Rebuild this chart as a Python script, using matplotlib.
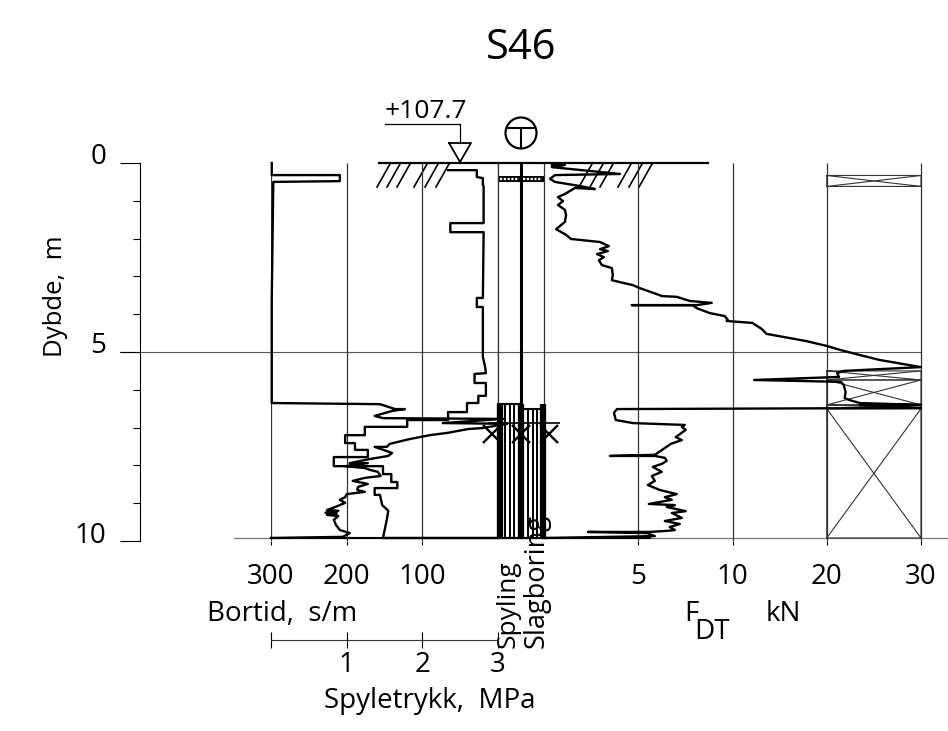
import numpy as np
import matplotlib
matplotlib.use("Agg")
import matplotlib.pyplot as plt

plt.rcParams['font.family'] = ['Open Sans', 'DejaVu Sans']

B, H = 948, 731

# bortid (s/m) mot dybde (m)
bortid = [299, 299, 209, 209, 297, 299, 299, 156, 136, 123, 140, 163, 152, -7, 73, -12, 20, 40, 67, 90, 116,
          143, 147, 163, 140, 145, 169, 196, 172, 202, 176, 169, 159, 155, 176, 192, 172, 185, 186, 176, 200,
          202, 209, 202, 215, 226, 211, 228, 213, 226, 211, 217, 214, 209, 196, 205, 300]
bortid_dybde = [0, 0.32, 0.32, 0.48, 0.50, 3.62, 6.35, 6.38, 6.51, 6.51, 6.56, 6.69, 6.75, 6.77, 6.88, 6.90, 7.01,
                7.04, 7.14, 7.20, 7.30, 7.43, 7.51, 7.51, 7.67, 7.75, 7.83, 7.94, 7.94, 8.02, 8.07, 8.12, 8.17,
                8.28, 8.33, 8.41, 8.49, 8.57, 8.65, 8.70, 8.76, 8.84, 8.91, 8.99, 9.10, 9.18, 9.20, 9.25, 9.27,
                9.31, 9.34, 9.44, 9.58, 9.71, 9.79, 9.89, 9.92]

# spyletrykk (MPa)
trykk = [2.34, 2.72, 2.72, 2.80, 2.80, 2.81, 2.81, 2.37, 2.37, 2.81, 2.80, 2.72, 2.72, 2.80, 2.80, 2.83, 2.84,
         2.69, 2.69, 2.84, 2.84, 2.74, 2.74, 2.59, 2.59, 2.34, 2.34, 1.80, 1.80, 1.24, 1.24, 0.98, 0.98, 1.11,
         1.11, 1.28, 1.28, 0.83, 0.83, 1.48, 1.48, 1.59, 1.59, 1.67, 1.67, 1.37, 1.37, 1.44, 1.47, 1.55, 1.53,
         1.48, 3.0]
trykk_dybde = [0.19, 0.19, 0.37, 0.40, 0.58, 0.61, 1.59, 1.59, 1.83, 1.83, 3.57, 3.57, 3.81, 3.81, 5.13, 5.40,
               5.56, 5.58, 5.82, 5.82, 6.16, 6.16, 6.35, 6.35, 6.59, 6.59, 6.80, 6.80, 6.98, 6.98, 7.20, 7.20,
               7.41, 7.41, 7.59, 7.59, 7.78, 7.78, 8.02, 8.02, 8.23, 8.23, 8.44, 8.44, 8.60, 8.60, 8.78, 8.78,
               9.05, 9.20, 9.44, 9.92, 9.92]

# F_DT (kN)
kraft = [0.42, 1.11, 0.42, 4.03, 0.58, 0.32, 0.58, 1.91, 2.70, 1.64, 1.11, 0.74, 1.01, 0.74, 1.11, 1.17, 1.11,
         0.64, 1.17, 1.43, 2.97, 3.44, 2.97, 3.39, 2.81, 3.18, 2.91, 3.07, 3.60, 3.65, 3.60, 4.18, 4.71, 5.08,
         5.99, 6.25, 7.04, 7.73, 8.90, 8.10, 4.66, 7.89, 8.10, 8.79, 9.59, 9.75, 9.69, 12.1, 13.1, 13.6, 17.8,
         20.0, 21.5, 23.5, 25.6, 30.0, 21.8, 21.1, 21.3, 12.3, 21.5, 21.8, 22.0, 21.9, 22.4, 23.5, 30.0, 23.5,
         30.0, 3.87, 3.71, 3.81, 4.71, 7.47, 7.31, 7.52, 6.99, 7.31, 6.73, 6.41, 5.88, 3.50, 5.88, 6.41, 6.51,
         6.25, 5.77, 6.25, 5.72, 5.88, 5.51, 6.14, 7.04, 6.41, 6.78, 5.56, 6.94, 6.51, 7.52, 6.78, 7.31, 6.41,
         7.20, 6.67, 6.94, 6.57, 5.61, 2.33, 5.46, 5.88, 0]
kraft_dybde = [0.05, 0.05, 0.11, 0.29, 0.32, 0.42, 0.50, 0.61, 0.69, 0.66, 0.82, 0.90, 1.01, 1.11, 1.24, 1.38,
               1.56, 1.75, 1.90, 2.01, 2.09, 2.20, 2.28, 2.33, 2.41, 2.49, 2.57, 2.70, 2.78, 2.96, 3.10, 3.17,
               3.23, 3.31, 3.47, 3.52, 3.54, 3.65, 3.70, 3.76, 3.76, 3.76, 3.84, 3.97, 4.05, 4.15, 4.18, 4.23,
               4.39, 4.52, 4.71, 4.84, 4.95, 5.08, 5.21, 5.40, 5.50, 5.56, 5.66, 5.74, 5.79, 5.87, 6.06, 6.22,
               6.27, 6.35, 6.40, 6.40, 6.48, 6.51, 6.61, 6.80, 6.88, 6.93, 6.98, 7.06, 7.25, 7.33, 7.43, 7.54,
               7.72, 7.75, 7.75, 7.80, 7.88, 7.96, 8.04, 8.17, 8.28, 8.41, 8.52, 8.65, 8.76, 8.84, 8.91, 9.02,
               9.05, 9.10, 9.21, 9.26, 9.39, 9.47, 9.55, 9.63, 9.71, 9.73, 9.76, 9.76, 9.79, 9.87, 9.92]

# soner i kolonnen lengst til hoyre (fra, til)
kryss_soner = [(0.33, 0.62), (5.50, 5.74), (5.74, 6.40), (6.40, 6.50), (6.50, 9.92)]

# spyling og slagboring (start dybde), avslutning
kolonne_start = [6.37, 6.50]
kolonne_slutt = 9.92
topp_bar = (0.35, 0.50)
stopp_dybde = 7.03

dybde_etiketter = ['0', '5', '10']


def akse(x0, y0, x1, y1):
    # akser plassert med pikselkanter fra referansen
    return fig.add_axes([x0 / B, 1 - y1 / H, (x1 - x0) / B, (y1 - y0) / H])


def tekst(x, y, s, **kw):
    kw.setdefault('ha', 'center')
    kw.setdefault('va', 'center')
    kw.setdefault('fontsize', 20)
    fig.text(x / B, 1 - y / H, s, **kw)


def frem(f):
    return np.interp(f, [-10, 0, 10, 30, 60], [-1, 0, 1, 2, 3.5])


def tilbake(v):
    return np.interp(v, [-1, 0, 1, 2, 3.5], [-10, 0, 10, 30, 60])


fig = plt.figure(figsize=(B / 100, H / 100), dpi=100)
bakgrunn = fig.add_axes([0, 0, 1, 1])
bakgrunn.set_xlim(0, B)
bakgrunn.set_ylim(H, 0)
bakgrunn.axis('off')

# dybdeakse
ax_d = akse(140, 163, 141, 541)
ax_d.set_ylim(10, 0)
ax_d.set_xticks([])
for s in ['top', 'right', 'bottom']:
    ax_d.spines[s].set_visible(False)
ax_d.spines['left'].set_linewidth(0.8)
ax_d.set_yticks([0, 5, 10])
ax_d.set_yticklabels([])
ax_d.set_yticks(np.arange(1, 10), minor=True)
ax_d.tick_params(axis='y', which='major', length=14.4, width=0.8)
ax_d.tick_params(axis='y', which='minor', length=5, width=0.8)
ax_d.patch.set_alpha(0)

# bortid og spyletrykk
ax_b = akse(271, 163, 498, 541)
ax_b.set_xlim(300, 0)
ax_b.set_ylim(10, 0)
ax_b.patch.set_alpha(0)
ax_b.set_frame_on(False)
ax_b.yaxis.set_visible(False)
ax_b.set_xticks([300, 200, 100])
ax_b.tick_params(axis='x', length=3, width=0.8, labelsize=20, pad=12.5)
ax_b.vlines([300, 200, 100, 0], 0, 10, color='#333333', lw=0.9)
ax_b.plot(bortid, bortid_dybde, color='black', lw=1.7, clip_on=False)

ax_t = ax_b.inset_axes([0, 0, 1, 1])
ax_t.set_xlim(0, 3)
ax_t.set_ylim(10, 0)
ax_t.axis('off')
ax_t.plot(trykk, trykk_dybde, color='black', lw=1.7, clip_on=False)

# egen skala for spyletrykk under figuren
ax_s = akse(271, 639, 498, 640)
ax_s.set_xlim(0, 3)
ax_s.set_yticks([])
for s in ['top', 'left', 'right']:
    ax_s.spines[s].set_visible(False)
ax_s.spines['bottom'].set_linewidth(0.8)
ax_s.spines['bottom'].set_color('#333333')
ax_s.set_xticks([0, 1, 2, 3])
ax_s.set_xticklabels(['', '1', '2', '3'])
ax_s.tick_params(axis='x', direction='inout', length=11, width=0.8, labelsize=20, pad=2.5)

# kolonne i midten
ax_k = akse(498, 163, 544, 541)
ax_k.set_xlim(0, 2)
ax_k.set_ylim(10, 0)
ax_k.axis('off')
ax_k.patch.set_alpha(0)
ax_k.vlines([0, 2], 0, kolonne_slutt, color='#333333', lw=0.9, clip_on=False)
ax_k.vlines(1, 0, kolonne_slutt, color='black', lw=2.2)
for kol, start in enumerate(kolonne_start):
    ax_k.bar(kol + 0.5, kolonne_slutt - start, bottom=start, width=1, fill=False, edgecolor='black', lw=1.5,
             clip_on=False)
    ax_k.vlines(kol + np.array([0.32, 0.5, 0.68]), start, kolonne_slutt, color='black', lw=1.4)
ax_k.vlines([0.08, 1.0, 1.96], kolonne_start[0], kolonne_slutt, color='black', lw=4.5, clip_on=False)
ax_k.bar([0.5, 1.5], topp_bar[1] - topp_bar[0], bottom=topp_bar[0], width=1, color='black')
for kol in [0, 1]:
    ax_k.hlines(sum(topp_bar) / 2, kol + 0.1, kol + 0.9, color='white', lw=1.6, linestyle=(0, (1, 0.7)))
ax_k.plot([-0.26, 1, 2.2], [stopp_dybde + 0.13] * 3, 'x', color='black', ms=13, mew=1.7, clip_on=False)
ax_k.hlines(stopp_dybde - 0.15, -0.45, 2.7, color='black', lw=1.2, clip_on=False)

# F_DT
ax_f = akse(544, 163, 921, 541)
ax_f.set_xscale('function', functions=(frem, tilbake))
ax_f.set_xlim(0, 30)
ax_f.set_ylim(10, 0)
ax_f.patch.set_alpha(0)
ax_f.set_frame_on(False)
ax_f.yaxis.set_visible(False)
ax_f.set_xticks([5, 10, 20, 30])
ax_f.set_xticklabels(['5', '10', '20', '30'])
ax_f.minorticks_off()
ax_f.tick_params(axis='x', length=3, width=0.8, labelsize=20, pad=12.5)
ax_f.vlines([5, 10, 20, 30], 0, 10, color='#333333', lw=0.9, clip_on=False)
for fra, til in kryss_soner:
    ax_f.plot([20, 30, 30, 20, 20, 30], [fra, fra, til, til, fra, til], color='#333333', lw=0.8, clip_on=False)
    ax_f.plot([20, 30], [til, fra], color='#333333', lw=0.8)
ax_f.plot(kraft, kraft_dybde, color='black', lw=1.7, clip_on=False)

# linjer over hele figuren, terreng og tegnforklaring
bakgrunn.plot([120, 921], [352, 352], color='#555555', lw=0.8)
bakgrunn.plot([234, 948], [538, 538], color='#777777', lw=0.9)
bakgrunn.plot([271, 650], [538, 538], color='black', lw=1.5)
bakgrunn.plot([379, 708], [163, 163], color='black', lw=1.6)
for x in [377, 387, 397, 414, 425, 436, 579, 590, 600, 618, 629, 639]:
    bakgrunn.plot([x, x + 13], [187, 164], color='black', lw=1.2)
bakgrunn.plot([385, 460, 460], [124, 124, 143], color='black', lw=0.9)
bakgrunn.plot([449, 471, 460, 449], [143, 143, 162, 143], color='black', lw=1.3)
bakgrunn.add_patch(plt.Circle((521, 133), 15.5, fill=False, color='black', lw=1.6))
bakgrunn.plot([507, 535], [128, 128], color='black', lw=1.5)
bakgrunn.plot([521, 521], [128, 148], color='black', lw=1.5)

tekst(521, 48, 'S46', fontsize=30)
tekst(426, 111, '+107.7', fontsize=19)
tekst(56, 296, 'Dybde,  m', rotation=90, fontsize=18.5)
tekst(282, 614, 'Bortid,  s/m')
tekst(430, 701, 'Spyletrykk,  MPa')
tekst(691, 614, 'F')
tekst(712, 632, 'DT')
tekst(783, 614, 'kN')
tekst(508, 648, 'Spyling', rotation=90, va='bottom', fontsize=19)
tekst(537, 648, 'Slagboring', rotation=90, va='bottom', fontsize=19.5)
for y, etikett in zip([157, 346, 536], dybde_etiketter):
    tekst(106, y, etikett, ha='right')

fig.savefig('out.png', dpi=100)
